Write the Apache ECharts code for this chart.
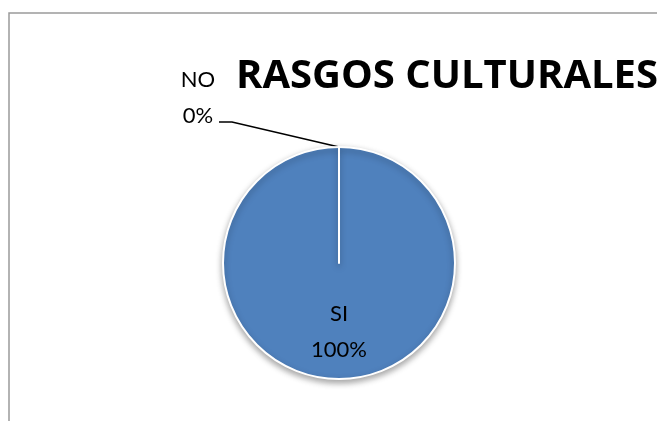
<!DOCTYPE html>
<html>
<head>
<meta charset="utf-8">
<script src="https://cdn.jsdelivr.net/npm/echarts@6/dist/echarts.min.js"></script>
<style>
html,body{margin:0;padding:0;background:#fff;}
#main{width:657px;height:421px;}
</style>
</head>
<body>
<div id="main"></div>
<script>
var titleText = 'RASGOS CULTURALES';
var categories = ['SI', 'NO'];
var values = [100, 0];

var chart = echarts.init(document.getElementById('main'), null, {renderer: 'canvas'});
var fontFam = 'Lato, "Open Sans", sans-serif';
var option = {
  animation: false,
  backgroundColor: '#ffffff',
  title: {
    text: titleText,
    left: 231,
    top: 52,
    textStyle: {fontFamily: '"Open Sans", Lato, sans-serif', fontWeight: 'bold', fontSize: 40, color: '#000'}
  },
  graphic: [{
    type: 'rect',
    shape: {x: 9, y: 13, width: 700, height: 500},
    style: {fill: null, stroke: '#9a9a9a', lineWidth: 1.5},
    silent: true
  }],
  series: [{
    type: 'pie',
    center: [339, 263],
    radius: 116,
    startAngle: 90,
    clockwise: true,
    avoidLabelOverlap: false,
    data: categories.map(function(c, i){ return {name: c, value: values[i]}; }),
    itemStyle: {
      color: '#4F81BD',
      borderColor: '#ffffff',
      borderWidth: 2,
      shadowBlur: 6,
      shadowOffsetY: 3,
      shadowColor: 'rgba(0,0,0,0.35)'
    },
    label: {
      formatter: function(p){ return p.name + '\n' + Math.round(p.percent) + '%'; },
      fontFamily: fontFam,
      fontSize: 22,
      color: '#000',
      lineHeight: 36
    },
    labelLine: {lineStyle: {color: '#000', width: 1.5}},
    labelLayout: function(p){
      if (p.dataIndex === 1) {
        var anchor = p.labelLinePoints ? p.labelLinePoints[0] : [339, 147];
        return {
          x: 198, y: 98, align: 'center', verticalAlign: 'middle',
          labelLinePoints: [anchor, [232, 122], [219, 122]]
        };
      }
      return {};
    }
  }]
};
option.series[0].data[0].label = {position: 'inside', offset: [0, 8]};
option.series[0].data[0].labelLine = {show: false};
option.series[0].data[1].label = {position: 'outside'};
option.series[0].data[1].labelLine = {show: true, length: 10, length2: 10};
chart.setOption(option);
</script>
</body>
</html>
